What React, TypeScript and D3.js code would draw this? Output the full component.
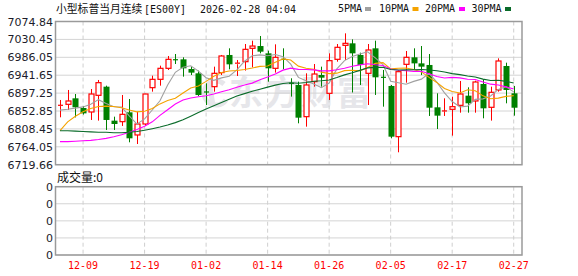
import React from "react";
import * as d3 from "d3";

const dates = ["12-04","12-05","12-08","12-09","12-10","12-11","12-12","12-15","12-16","12-17","12-18","12-19","12-22","12-23","12-24","12-26","12-29","12-30","12-31","01-02","01-05","01-06","01-07","01-08","01-09","01-12","01-13","01-14","01-15","01-16","01-19","01-20","01-21","01-22","01-23","01-26","01-27","01-28","01-29","01-30","02-02","02-03","02-04","02-05","02-06","02-09","02-10","02-11","02-12","02-13","02-16","02-17","02-18","02-19","02-20","02-23","02-24","02-25","02-26","02-27"];

const opens = [6865,6869.4,6884.3,6860.3,6850.4,6891.7,6913.2,6828.9,6826.4,6849.6,6793.4,6820.6,6910.7,6931.4,6958.7,6980,6981,6957,6946.3,6900,6913.2,6948,6991.8,6969,6975.2,7008.3,7014,6995.9,6958.7,6981,6921.5,6917.4,6838.8,6925.6,6942.1,6896.7,6981,7015.7,7020.7,6991.8,6946.3,7008.3,6936.4,6914.9,6789.2,6968.6,6986,6971,6967,6862,6852,6857,6866.9,6890.9,6877.7,6919.8,6862,6905,6964.5,6896.7];
const highs = [6880.2,6905,6895,6865,6907.4,6929.8,6915.7,6838.8,6892.6,6882.6,6851.2,6895.5,6940.5,6965.3,6989.3,6994.2,6986,6962.8,6953,6921.5,6962.8,6991.8,7008.3,6979.4,7019,7027.3,7038.9,7002.5,7018.2,7008.3,6934,6925.6,6946.3,6969.4,6962.8,6995.9,7019,7045.5,7030.6,6997.5,7019,7027.3,6954.6,6917.4,6954.6,7001.7,7008.3,7014,6994.2,6896.7,6884.3,6888.4,6927.3,6911.6,6928,6931.4,6913.2,6983.5,6972.7,6914.9];
const lows = [6837.2,6855.4,6837,6844,6830.6,6829,6805.8,6805.8,6815.7,6775.2,6771,6815.7,6900.8,6915.7,6954.6,6969.4,6938,6942.1,6890.1,6867.7,6900.8,6942.1,6956.2,6939.7,6953,6961.2,6995.9,6925.6,6948,6956.2,6888.5,6822.3,6814,6913.2,6913.2,6880.2,6975.2,6979.4,6898.8,6917.4,6867.7,6892.6,6863.6,6785.1,6750.4,6923.1,6954.6,6942,6840.5,6808.2,6840.5,6791.7,6848.7,6848.7,6848.7,6834.7,6829,6900.8,6871.9,6841.3];
const closes = [6867,6877.7,6862,6847,6895,6923.1,6830.6,6820.6,6844.6,6785.1,6820.6,6895,6931.4,6958.7,6981,6978,6958.7,6948,6892.6,6899,6946.3,6989.3,6968.6,6971.5,7005.8,7014,7000,6958.7,6986,6980,6919.8,6836.3,6917.4,6944.6,6935.5,6977.7,7010.8,7020.7,6995.9,6967,7004.2,6936.4,6935,6789.2,6950.4,6986,6971,6962.8,6861,6841.3,6853,6863.6,6895,6872,6924.8,6859.5,6899.2,6976.9,6905,6861];

const ma5 = [6855,6857,6860,6863,6869.5,6881,6871.5,6863.3,6862.8,6840.8,6820.3,6833.2,6855.3,6878.2,6917.3,6948.8,6961.6,6964.9,6951.7,6935.3,6928.9,6935,6939.2,6954.9,6976.3,6989.8,6992,6990,6992.9,6987.7,6968.9,6936.2,6927.9,6919.6,6910.7,6922.3,6957.2,6977.9,6988.1,6994.4,6999.7,6984.8,6967.7,6926.4,6923,6919.4,6926.3,6931.9,6946.2,6924.4,6897.8,6876.3,6862.8,6865,6881.7,6883,6890.1,6906.5,6913.1,6900.3];
const ma10 = [6804,6826,6840,6851,6859,6864,6865,6864,6861,6855.2,6850.7,6852.4,6859.3,6870.5,6879.1,6884.6,6897.4,6910.1,6915,6926.3,6938.9,6948.3,6952.1,6953.3,6955.8,6959.4,6963.5,6964.6,6973.9,6982,6979.4,6964.1,6959,6956.3,6949.2,6945.6,6946.7,6952.9,6953.9,6952.6,6961,6971,6972.8,6957.3,6958.7,6959.6,6955.6,6949.8,6936.3,6923.7,6908.6,6901.3,6897.4,6905.6,6903.1,6890.4,6883.2,6884.7,6889.1,6891];
const ma20 = [6777,6777,6778,6779,6780,6782,6785,6789,6794,6800,6807,6815,6826,6842,6856,6870,6880,6885,6888,6890.8,6894.8,6900.4,6905.7,6911.9,6917.5,6922,6930.5,6937.4,6944.5,6954.2,6959.2,6956.2,6955.6,6954.8,6952.5,6952.5,6955.1,6958.8,6963.9,6967.3,6970.2,6967.6,6965.9,6956.8,6954,6952.6,6951.2,6951.4,6945.1,6938.2,6934.8,6936.2,6935.1,6931.5,6930.9,6925,6919.4,6917.3,6912.7,6907.4];
const ma30 = [6804,6804,6803,6802,6801,6800,6800,6799,6799,6800,6802,6805,6809,6813,6818,6824,6831,6840,6849,6858,6866,6874,6882,6890,6896,6902,6907,6912,6917,6921.2,6923,6921.6,6923.5,6926.7,6928,6929.9,6935.9,6942.5,6947.6,6953.6,6959.8,6961.1,6961.3,6955.6,6954.6,6954.9,6955.3,6955.8,6954.7,6952.8,6949.7,6945.5,6943.1,6939.7,6937,6931.9,6928.5,6929.1,6926.4,6922.4];

const yTicks = [7074.84, 7030.45, 6986.05, 6941.65, 6897.25, 6852.85, 6808.45, 6764.05, 6719.66];
const xTickLabels = ["12-09", "12-19", "01-02", "01-14", "01-26", "02-05", "02-17", "02-27"];
const volTicks = [0, 1, 2, 3, 4];
const legendItems = [
  { label: "5PMA", color: "#a0a0a0" },
  { label: "10PMA", color: "#f5a300" },
  { label: "20PMA", color: "#ff00ff" },
  { label: "30PMA", color: "#0a6b2a" },
];
const maSeries = [
  { values: ma5, color: "#a0a0a0" },
  { values: ma10, color: "#f5a300" },
  { values: ma20, color: "#ff00ff" },
  { values: ma30, color: "#0a6b2a" },
];

const W = 578, H = 276;
const L = 55.5, R = 522;
const T = 21.5, B = 164.7;
const VT = 186.7, VB = 255;

export default function App() {
  const x = d3.scaleBand<string>().domain(dates).range([56.15, 517.55]).paddingInner(0.35).paddingOuter(0.175);
  const cx = (d: string) => (x(d) as number) + x.bandwidth() / 2;
  const y = d3.scaleLinear().domain([6719.66, 7074.84]).range([B, T]);
  const yv = d3.scaleLinear().domain([0, 4]).range([VB, VT]);
  const bw = x.bandwidth();

  const numFont = "'DejaVu Sans', Verdana, sans-serif";
  const monoFont = "'DejaVu Sans Mono', 'Liberation Mono', monospace";
  const cjkFont = "'Noto Sans CJK SC', sans-serif";

  const line = (vals: number[]) =>
    d3.line<number>().x((_, i) => cx(dates[i])).y((v) => y(v))(vals) || "";

  return (
    <svg width={W} height={H} style={{ position: "absolute", left: 0, top: 0, background: "#fff" }}>
      <rect x={0} y={0} width={W} height={H} fill="#fff" />
      {/* title */}
      <text y={12.5} fill="#111">
        <tspan x={56} fontFamily={cjkFont} fontSize={10.8}>小型标普当月连续</tspan>
        <tspan x={144} fontFamily={monoFont} fontSize={10}>[ES00Y]</tspan>
        <tspan x={200} fontFamily={monoFont} fontSize={10}>2026-02-28</tspan>
        <tspan x={266} fontFamily={monoFont} fontSize={10}>04:04</tspan>
      </text>
      {/* legend */}
      {legendItems.map((it, i) => {
        const starts = [338, 379, 425, 471.5];
        const sq = [365, 412.5, 459, 505];
        return (
          <g key={it.label}>
            <text x={starts[i]} y={12} fontFamily={monoFont} fontSize={10} fill="#111">{it.label}</text>
            <rect x={sq[i]} y={7} width={6} height={4} fill={it.color} />
          </g>
        );
      })}

      {/* watermark */}
      <g fill="none" stroke="#e6e6ea" strokeWidth={5}>
        <path d="M 224 84 A 12 12 0 1 0 226 100" />
        <path d="M 209 82 L 213 105" />
      </g>
      <text x={229} y={105} fontFamily={cjkFont} fontSize={34} fontWeight={700} fill="#e6e6ea" letterSpacing={2}>东方财富</text>

      {/* main grid */}
      {yTicks.map((t) => (
        <line key={t} x1={L} x2={R} y1={y(t)} y2={y(t)} stroke="#d4d4d4" strokeWidth={1} />
      ))}
      {xTickLabels.map((d) => (
        <line key={d} x1={cx(d)} x2={cx(d)} y1={T} y2={B} stroke="#cfcfcf" strokeDasharray="4,3" />
      ))}
      {yTicks.map((t) => (
        <text key={t} x={53} y={y(t) + 4} textAnchor="end" fontFamily={numFont} fontSize={11} fill="#1c1c2a">
          {t.toFixed(2)}
        </text>
      ))}

      {/* candles */}
      {dates.map((d, i) => {
        const up = closes[i] >= opens[i];
        const color = up ? "#ff0000" : "#008000";
        const top = y(Math.max(opens[i], closes[i]));
        const bot = y(Math.min(opens[i], closes[i]));
        const c = Math.round(cx(d)) + 0.5;
        const bx = c - bw / 2;
        const h = Math.max(1, bot - top);
        return (
          <g key={d}>
            {up ? (
              <>
                <line x1={c} x2={c} y1={y(highs[i])} y2={top} stroke={color} />
                <line x1={c} x2={c} y1={bot} y2={y(lows[i])} stroke={color} />
                {h <= 1.5 ? (
                  <line x1={bx} x2={bx + bw} y1={top} y2={top} stroke={color} strokeWidth={1.2} />
                ) : (
                  <rect x={bx} y={top} width={bw} height={h} fill="#fff" stroke={color} strokeWidth={1.2} />
                )}
              </>
            ) : (
              <>
                <line x1={c} x2={c} y1={y(highs[i])} y2={y(lows[i])} stroke={color} />
                {h <= 1.5 ? (
                  <line x1={bx} x2={bx + bw} y1={top} y2={top} stroke={color} strokeWidth={1.2} />
                ) : (
                  <rect x={bx - 0.5} y={top} width={bw + 1} height={h} fill={color} />
                )}
              </>
            )}
          </g>
        );
      })}

      {/* moving averages */}
      {maSeries.map((s, i) => (
        <path key={i} d={line(s.values)} fill="none" stroke={s.color} strokeWidth={1.1} />
      ))}

      {/* main border */}
      <rect x={L} y={T} width={R - L} height={B - T} fill="none" stroke="#9a9a9a" strokeWidth={1.5} />

      {/* volume panel */}
      <text x={57} y={182} fontFamily={cjkFont} fontSize={12} fill="#111">成交量:0</text>
      {volTicks.map((t) => (
        <line key={t} x1={L} x2={R} y1={yv(t)} y2={yv(t)} stroke="#d4d4d4" />
      ))}
      {xTickLabels.map((d) => (
        <line key={d} x1={cx(d)} x2={cx(d)} y1={VT} y2={VB} stroke="#cfcfcf" strokeDasharray="4,3" />
      ))}
      {volTicks.map((t) => (
        <text key={t} x={53} y={yv(t) + 4} textAnchor="end" fontFamily={numFont} fontSize={11} fill="#1c1c2a">0</text>
      ))}
      <rect x={L} y={VT} width={R - L} height={VB - VT} fill="none" stroke="#9a9a9a" strokeWidth={1.5} />
      {xTickLabels.map((d) => (
        <text key={d} x={cx(d)} y={269} textAnchor="middle" fontFamily={monoFont} fontSize={10} fill="#ff0000">{d}</text>
      ))}
    </svg>
  );
}
